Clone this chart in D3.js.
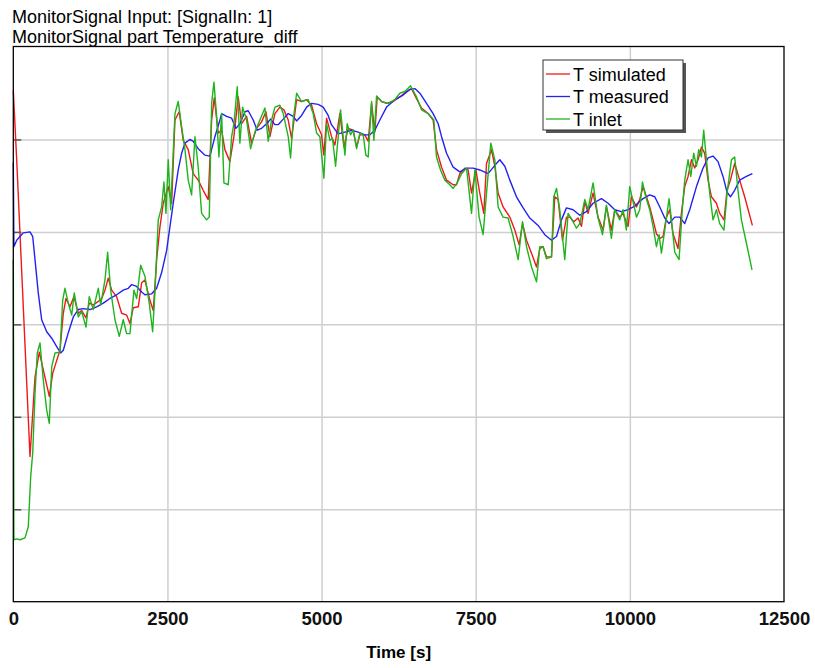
<!DOCTYPE html>
<html>
<head>
<meta charset="utf-8">
<script src="https://cdn.jsdelivr.net/npm/d3@7"></script>
<style>
  html, body { margin: 0; padding: 0; background: #fff; }
  svg { display: block; font-family: "Liberation Sans", Arial, sans-serif; }
</style>
</head>
<body>
<svg id="chart" width="815" height="668"></svg>
<script>
// Series names and colours
const seriesNames = ["T simulated", "T measured", "T inlet"];
const seriesColors = ["#f01818", "#2222f0", "#1eb41e"];

// Axis ticks
const xTicks = [0, 2500, 5000, 7500, 10000, 12500];
const yTicks = [1, 2, 3, 4, 5];

// [time s, temperature difference]
const tSimulated = [
  [0,5.53],[55,4.78],[271,1.57],[352,2.43],[422,2.70],[486,2.51],[584,2.22],[639,2.47],[704,2.61],[757,2.72],
  [811,3.12],[854,3.28],[919,3.19],[984,3.30],[1054,3.12],[1109,3.15],[1179,3.07],[1232,3.23],[1297,3.21],[1362,3.24],
  [1433,3.28],[1487,3.37],[1540,3.50],[1595,3.37],[1676,3.30],[1757,3.12],[1838,3.10],[1892,3.01],[1946,3.18],[2027,3.19],
  [2082,3.45],[2135,3.48],[2216,3.26],[2270,3.15],[2325,3.70],[2378,4.05],[2432,4.31],[2513,4.49],[2568,4.31],[2622,5.21],
  [2691,5.30],[2756,4.99],[2837,4.89],[2918,4.63],[2999,4.56],[3080,4.45],[3161,4.35],[3217,5.21],[3259,5.45],[3324,5.07],
  [3379,5.10],[3432,4.89],[3513,4.76],[3578,5.03],[3648,5.46],[3703,5.17],[3784,5.25],[3865,4.96],[3946,5.12],[4027,5.19],
  [4097,5.30],[4162,5.03],[4243,5.28],[4324,5.35],[4389,5.32],[4459,5.21],[4514,5.01],[4595,5.43],[4676,5.41],[4757,5.43],
  [4838,5.37],[4919,5.17],[5000,5.05],[5037,4.83],[5081,5.23],[5162,5.03],[5216,4.94],[5297,5.28],[5362,4.92],[5431,5.12],
  [5512,5.10],[5568,4.92],[5621,5.05],[5702,5.05],[5756,4.98],[5811,5.39],[5864,5.08],[5902,5.46],[5973,5.41],[6054,5.39],
  [6161,5.41],[6269,5.46],[6378,5.52],[6459,5.55],[6540,5.44],[6621,5.34],[6728,5.28],[6809,5.21],[6864,4.89],[6946,4.70],
  [7027,4.56],[7134,4.51],[7189,4.51],[7242,4.63],[7323,4.69],[7377,4.67],[7432,4.42],[7502,4.67],[7566,4.42],[7631,4.20],
  [7675,4.74],[7756,4.89],[7810,4.71],[7863,4.42],[7944,4.27],[8053,4.16],[8134,4.02],[8204,3.86],[8259,4.09],[8324,3.91],
  [8405,3.77],[8486,3.62],[8539,3.82],[8593,3.84],[8648,3.73],[8729,3.73],[8782,4.38],[8836,4.35],[8907,3.91],[8972,4.16],
  [9026,4.16],[9090,4.11],[9160,4.15],[9215,4.06],[9269,4.33],[9322,4.20],[9403,4.42],[9484,4.16],[9566,4.02],[9620,4.27],
  [9701,4.02],[9755,4.24],[9836,4.16],[9890,4.20],[9971,4.06],[10026,4.38],[10107,4.27],[10160,4.35],[10214,4.49],[10269,4.38],
  [10322,4.27],[10376,4.13],[10431,3.98],[10485,3.93],[10538,3.95],[10593,4.16],[10647,4.24],[10700,3.98],[10781,3.82],[10836,4.20],
  [10890,4.49],[10944,4.60],[10999,4.78],[11052,4.69],[11106,4.78],[11161,4.92],[11214,4.85],[11268,4.56],[11323,4.38],[11404,4.31],
  [11457,4.20],[11527,4.13],[11576,4.45],[11631,4.56],[11700,4.74],[11781,4.56],[11862,4.38],[11987,4.07]
];

const tMeasured = [
  [0,4.75],[10,3.84],[55,3.91],[162,3.99],[271,4.00],[315,3.95],[352,3.70],[405,3.34],[460,3.05],[542,2.92],
  [623,2.85],[704,2.76],[768,2.69],[811,2.72],[892,2.91],[973,3.08],[1054,3.16],[1135,3.17],[1244,3.16],[1352,3.19],
  [1459,3.23],[1568,3.28],[1676,3.32],[1783,3.37],[1865,3.39],[1920,3.43],[2001,3.41],[2082,3.35],[2135,3.32],[2244,3.33],
  [2325,3.39],[2406,3.56],[2487,3.80],[2594,4.31],[2675,4.67],[2730,4.85],[2784,4.96],[2865,5.00],[2918,4.98],[2999,4.90],
  [3108,4.83],[3189,4.82],[3270,5.03],[3351,5.21],[3379,5.28],[3460,5.25],[3541,5.23],[3611,5.12],[3675,5.17],[3757,5.30],
  [3810,5.31],[3891,5.21],[3956,5.10],[4027,5.12],[4108,5.17],[4173,5.22],[4243,5.16],[4296,5.16],[4378,5.22],[4459,5.28],
  [4540,5.25],[4595,5.20],[4676,5.26],[4757,5.35],[4838,5.39],[4945,5.38],[5026,5.35],[5107,5.26],[5160,5.16],[5269,5.06],
  [5378,5.08],[5486,5.10],[5593,5.08],[5702,5.05],[5783,5.05],[5864,5.10],[5945,5.21],[6054,5.35],[6188,5.43],[6323,5.48],
  [6432,5.54],[6513,5.55],[6594,5.50],[6702,5.39],[6809,5.28],[6891,5.17],[6946,5.03],[7027,4.85],[7134,4.70],[7242,4.65],
  [7351,4.69],[7458,4.69],[7566,4.67],[7701,4.63],[7810,4.72],[7891,4.78],[7972,4.71],[8053,4.56],[8161,4.38],[8269,4.26],
  [8377,4.15],[8512,4.07],[8620,3.97],[8729,3.91],[8810,3.95],[8891,4.13],[8972,4.26],[9079,4.24],[9188,4.18],[9296,4.22],
  [9403,4.31],[9539,4.36],[9647,4.31],[9755,4.24],[9863,4.22],[9971,4.24],[10080,4.28],[10160,4.33],[10214,4.36],[10322,4.40],
  [10404,4.38],[10485,4.27],[10566,4.15],[10636,4.09],[10728,4.16],[10809,4.16],[10890,4.09],[10971,4.24],[11080,4.49],[11187,4.69],
  [11268,4.80],[11349,4.82],[11430,4.76],[11511,4.60],[11576,4.43],[11631,4.38],[11700,4.45],[11781,4.56],[11890,4.60],[11987,4.63]
];

const tInlet = [
  [0,3.70],[10,0.67],[60,0.68],[109,0.67],[190,0.69],[243,0.81],[282,1.35],[315,1.61],[352,2.25],[389,2.69],
  [433,2.80],[486,2.40],[542,2.07],[584,1.93],[623,2.54],[676,2.69],[757,2.70],[801,3.26],[838,3.39],[892,3.23],
  [947,3.10],[989,3.34],[1054,3.08],[1109,3.14],[1179,2.97],[1232,3.30],[1297,3.16],[1378,3.39],[1417,3.21],[1487,3.48],
  [1530,3.78],[1579,3.37],[1649,3.05],[1719,2.87],[1783,3.05],[1838,2.90],[1892,2.90],[1957,3.37],[2001,3.28],[2066,3.64],
  [2135,3.52],[2205,3.23],[2260,2.92],[2297,3.34],[2351,4.13],[2406,4.27],[2443,4.54],[2476,4.20],[2513,4.78],[2552,4.24],
  [2622,5.28],[2675,5.41],[2730,5.14],[2784,4.89],[2837,4.56],[2892,4.40],[2946,5.03],[2999,4.70],[3054,4.20],[3135,4.13],
  [3178,4.16],[3217,5.39],[3254,5.62],[3298,5.25],[3335,4.81],[3379,5.28],[3416,4.53],[3486,4.51],[3541,5.03],[3578,5.17],
  [3632,5.57],[3675,4.96],[3719,5.35],[3784,5.21],[3849,4.90],[3919,5.08],[4000,5.21],[4081,5.34],[4134,4.98],[4189,5.21],
  [4243,5.35],[4324,5.37],[4378,5.28],[4459,5.03],[4497,4.80],[4540,5.21],[4595,5.50],[4676,5.41],[4783,5.43],[4864,5.28],
  [4919,5.07],[4972,5.03],[5037,4.58],[5081,5.17],[5135,4.99],[5178,5.01],[5227,4.71],[5308,5.32],[5378,4.83],[5415,5.17],
  [5470,5.05],[5512,5.10],[5568,4.90],[5621,5.07],[5675,5.05],[5718,4.83],[5756,4.81],[5811,5.41],[5848,4.99],[5892,5.47],
  [5973,5.41],[6080,5.39],[6188,5.43],[6269,5.50],[6351,5.52],[6443,5.58],[6540,5.46],[6621,5.32],[6728,5.28],[6821,5.21],
  [6864,4.81],[6929,4.67],[6999,4.56],[7080,4.51],[7134,4.47],[7199,4.53],[7270,4.63],[7351,4.69],[7432,4.20],[7486,4.67],
  [7555,4.16],[7620,3.97],[7675,4.42],[7745,4.96],[7810,4.78],[7863,4.27],[7944,4.16],[8025,4.15],[8107,3.95],[8188,3.70],
  [8259,4.11],[8324,3.84],[8405,3.62],[8486,3.46],[8539,3.84],[8593,3.84],[8648,3.71],[8729,3.73],[8766,4.38],[8810,4.47],
  [8863,4.24],[8944,3.70],[8998,4.20],[9079,4.11],[9134,4.04],[9188,4.09],[9269,4.35],[9322,4.24],[9403,4.53],[9484,4.15],
  [9556,3.97],[9620,4.29],[9701,3.93],[9755,4.24],[9836,4.13],[9890,4.24],[9944,4.02],[9998,4.49],[10107,4.16],[10160,4.24],
  [10204,4.54],[10258,4.38],[10322,4.24],[10376,4.06],[10431,3.84],[10474,3.97],[10512,3.77],[10566,4.02],[10636,4.36],[10674,4.13],
  [10728,3.78],[10798,3.70],[10853,4.27],[10890,4.56],[10944,4.78],[10988,4.60],[11036,4.85],[11080,4.71],[11117,4.89],[11161,4.81],
  [11198,5.10],[11242,4.78],[11295,4.42],[11349,4.13],[11404,4.24],[11457,4.09],[11527,4.02],[11576,4.42],[11648,4.78],[11700,4.81],
  [11754,4.45],[11809,4.13],[11890,3.88],[11981,3.59]
];

const titleLines = ["MonitorSignal Input: [SignalIn: 1]", "MonitorSignal part Temperature_diff"];
const xLabel = "Time [s]";

const svg = d3.select("#chart");
const plot = { left: 13.3, right: 784, top: 47, bottom: 601.7 };

const x = d3.scaleLinear().domain([0, 12500]).range([plot.left, plot.right]);
const y = d3.scaleLinear().domain([0, 6]).range([plot.bottom, plot.top]);

// Titles
svg.selectAll("text.title").data(titleLines).join("text")
  .attr("class", "title")
  .attr("x", 12).attr("y", (d, i) => 22.5 + i * 20.5)
  .attr("font-size", 18).attr("fill", "#000")
  .text(d => d);

// Vertical grid lines
svg.append("g")
  .attr("transform", `translate(0,${plot.bottom})`)
  .call(d3.axisBottom(x).tickValues(xTicks.slice(1, -1)).tickSize(-(plot.bottom - plot.top)).tickFormat(""))
  .call(g => g.select(".domain").remove())
  .call(g => g.selectAll("line").attr("stroke", "#cfcfcf").attr("stroke-width", 1.5));

// Horizontal grid lines
svg.append("g")
  .attr("transform", `translate(${plot.left},0)`)
  .call(d3.axisLeft(y).tickValues(yTicks).tickSize(-(plot.right - plot.left)).tickFormat(""))
  .call(g => g.select(".domain").remove())
  .call(g => g.selectAll("line").attr("stroke", "#cfcfcf").attr("stroke-width", 1.5));

// Short inward tick marks on the left edge
svg.append("g")
  .attr("transform", `translate(${plot.left},0)`)
  .call(d3.axisLeft(y).tickValues(yTicks).tickSize(-8).tickFormat(""))
  .call(g => g.select(".domain").remove())
  .call(g => g.selectAll("line").attr("stroke", "#555").attr("stroke-width", 1.5));

// Series
const line = d3.line().x(d => x(d[0])).y(d => y(d[1]));
const allSeries = [tSimulated, tMeasured, tInlet];
svg.append("g")
  .selectAll("path").data(allSeries).join("path")
  .attr("d", line)
  .attr("fill", "none")
  .attr("stroke", (d, i) => seriesColors[i])
  .attr("stroke-width", 1.4)
  .attr("stroke-linejoin", "round");

// Plot frame
svg.append("rect")
  .attr("x", plot.left).attr("y", plot.top - 0.5)
  .attr("width", plot.right - plot.left).attr("height", plot.bottom - plot.top + 0.5)
  .attr("fill", "none").attr("stroke", "#000").attr("stroke-width", 1.3);

// X tick labels
svg.append("g")
  .attr("transform", `translate(0,${plot.bottom})`)
  .call(d3.axisBottom(x).tickValues(xTicks).tickSize(0).tickPadding(18).tickFormat(d3.format("d")))
  .call(g => g.select(".domain").remove())
  .call(g => g.selectAll("text")
    .attr("font-family", "'Liberation Sans', Arial, sans-serif")
    .attr("font-size", 18.5).attr("font-weight", "bold").attr("fill", "#111")
    .attr("dy", "0.3em"));

// X axis title
svg.append("text")
  .attr("x", (plot.left + plot.right) / 2).attr("y", 658)
  .attr("text-anchor", "middle").attr("font-size", 17).attr("font-weight", "bold")
  .text(xLabel);

// Legend
const lg = svg.append("g").attr("transform", "translate(543,60)");
lg.append("rect").attr("x", 3).attr("y", 3).attr("width", 140).attr("height", 70).attr("fill", "#555");
lg.append("rect").attr("x", 0).attr("y", 0).attr("width", 140).attr("height", 70)
  .attr("fill", "#fff").attr("stroke", "#333").attr("stroke-width", 1);
const items = lg.selectAll("g.item").data(seriesNames).join("g")
  .attr("class", "item")
  .attr("transform", (d, i) => `translate(0,${14 + i * 22.5})`);
items.append("line").attr("x1", 3).attr("x2", 27).attr("y1", 0).attr("y2", 0)
  .attr("stroke", (d, i) => seriesColors[i]).attr("stroke-width", 1.3);
items.append("text").attr("x", 30).attr("y", 6.5)
  .attr("font-size", 18).attr("fill", "#000").text(d => d);
</script>
</body>
</html>
